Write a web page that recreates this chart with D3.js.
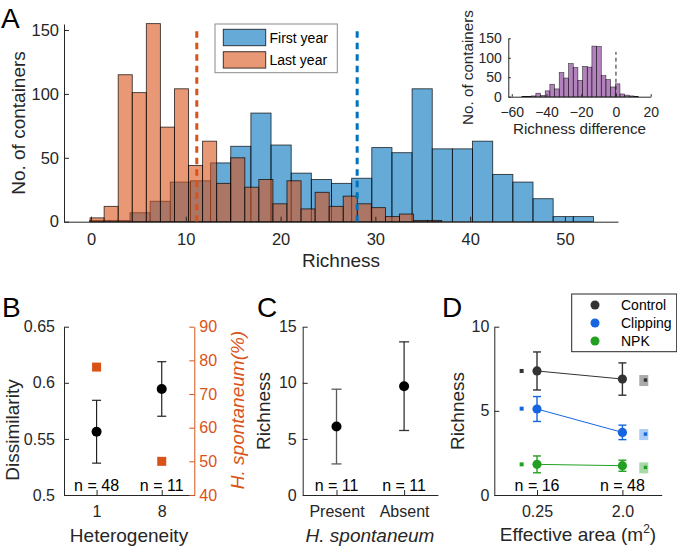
<!DOCTYPE html>
<html>
<head>
<meta charset="utf-8">
<script src="https://cdn.jsdelivr.net/npm/d3@7"></script>
<style>
body { margin: 0; background: #fff; }
svg text { font-family: Arial, "Liberation Sans", Helvetica, sans-serif; }
</style>
</head>
<body>
<div id="fig"></div>
<script>
// ---- panel A: richness histograms (bin start, bin width, counts)
var firstYearStart = -0.14, firstYearWidth = 2.126;
var firstYearCounts = [1, 1, 7, 16, 31, 32, 46, 59, 85, 60, 38, 33, 30, 34, 58, 54, 104, 57, 57, 63, 37, 31, 18, 4, 4];
var lastYearStart = -0.1, lastYearWidth = 1.484;
var lastYearCounts = [3, 12, 115, 101, 155, 74, 104, 44, 63, 30, 50, 27, 33, 14, 32, 10, 23, 12, 20, 14, 11, 4, 6, 1, 1];
var meanFirst = 28.08, meanLast = 11.16;
var seriesNames = ["First year", "Last year"];
var ticksAx = [0, 10, 20, 30, 40, 50];
var ticksAy = [0, 50, 100, 150];

// ---- inset: richness difference
var diffStart = -54.2, diffWidth = 2.69;
var diffCounts = [1, 1, 2, 9, 3, 15, 32, 20, 62, 48, 85, 75, 42, 78, 76, 130, 129, 54, 44, 25, 33, 7, 4, 2, 1];
var ticksInX = [-60, -40, -20, 0, 20];
var ticksInY = [0, 50, 100, 150];

// ---- panel B
var heteroLabels = ["1", "8"];
var dissim = [0.5564, 0.5945];
var dissimErr = [0.028, 0.0243];
var hspontPct = [78, 50];
var nB = ["n = 48", "n = 11"];
var ticksBl = [0.5, 0.55, 0.6, 0.65];
var ticksBr = [40, 50, 60, 70, 80, 90];

// ---- panel C
var presenceLabels = ["Present", "Absent"];
var richC = [6.1, 9.7];
var richCErr = [3.33, 3.95];
var nC = ["n = 11", "n = 11"];
var ticksC = [0, 5, 10, 15];

// ---- panel D
var areaLabels = ["0.25", "2.0"];
var treatments = ["Control", "Clipping", "NPK"];
var controlMean = [7.37, 6.89], controlErr = [1.13, 0.96];
var clippingMean = [5.11, 3.72], clippingErr = [0.74, 0.43];
var npkMean = [1.82, 1.74], npkErr = [0.5, 0.33];
var leftRef = [7.37, 5.13, 1.82];
var rightRef = [6.83, 3.62, 1.64];
var nD = ["n = 16", "n = 48"];
var ticksD = [0, 5, 10];

var axisColor = "#262626";
var blue = "#0072BD", orange = "#D95319", purple = "#7E2F8E";
var treatColors = ["#333333", "#1565e0", "#22a022"];
var treatLight = ["#ababab", "#a9cdf3", "#a9d9a9"];

var svg = d3.select("#fig").append("svg")
	.attr("width", 677)
	.attr("height", 550);

function styleAxis(g, color, size) {
	g.attr("font-family", null).attr("font-size", null);
	g.select(".domain").attr("stroke", color);
	g.selectAll(".tick line").attr("stroke", color);
	g.selectAll(".tick text").attr("fill", color).style("font-size", size + "px");
}

function histBars(g, start, width, counts, x, y, color, sw) {
	var bins = counts.map(function (c, i) {
		return {x0: start + i * width, x1: start + (i + 1) * width, c: c};
	}).filter(function (d) { return d.c > 0; });
	g.selectAll(null)
		.data(bins)
		.enter()
		.append("rect")
		.attr("x", function (d) { return x(d.x0); })
		.attr("width", function (d) { return x(d.x1) - x(d.x0); })
		.attr("y", function (d) { return y(d.c); })
		.attr("height", function (d) { return y(0) - y(d.c); })
		.attr("fill", color)
		.attr("fill-opacity", 0.6)
		.attr("stroke", "#000")
		.attr("stroke-opacity", 0.75)
		.attr("stroke-width", sw);
}

function label(txt, x, y, size, opts) {
	opts = opts || {};
	var t = svg.append("text")
		.attr("x", x).attr("y", y)
		.attr("text-anchor", opts.anchor || "middle")
		.style("font-size", size + "px")
		.style("fill", opts.color || axisColor)
		.text(txt);
	if (opts.italic) t.style("font-style", "italic");
	if (opts.rotate) t.attr("transform", "rotate(-90," + x + "," + y + ")");
	return t;
}

function errBars(g, xs, ys, es, x, y, colors, cap, sw) {
	xs.forEach(function (xv, i) {
		var c = Array.isArray(colors) ? colors[i] : colors;
		var px = x(xv);
		g.append("line").attr("x1", px).attr("x2", px)
			.attr("y1", y(ys[i] - es[i])).attr("y2", y(ys[i] + es[i]))
			.attr("stroke", c).attr("stroke-width", sw);
		[ys[i] - es[i], ys[i] + es[i]].forEach(function (v) {
			g.append("line").attr("x1", px - cap / 2).attr("x2", px + cap / 2)
				.attr("y1", y(v)).attr("y2", y(v))
				.attr("stroke", c).attr("stroke-width", sw);
		});
	});
}

// ================= PANEL A =================
var xA = d3.scaleLinear().domain([-2.85, 55.6]).range([64, 618]);
var yA = d3.scaleLinear().domain([0, 154.7]).range([221.7, 24]);
var gA = svg.append("g");

histBars(gA, firstYearStart, firstYearWidth, firstYearCounts, xA, yA, blue, 0.9);
histBars(gA, lastYearStart, lastYearWidth, lastYearCounts, xA, yA, orange, 0.9);

// mean lines
[[meanLast, orange], [meanFirst, blue]].forEach(function (m) {
	gA.append("line")
		.attr("x1", xA(m[0])).attr("x2", xA(m[0]))
		.attr("y1", yA(0)).attr("y2", yA(151))
		.attr("stroke", m[1]).attr("stroke-width", 3)
		.attr("stroke-dasharray", "6.5,5");
});

gA.append("g").attr("transform", "translate(0," + yA(0) + ")")
	.call(d3.axisBottom(xA).tickValues(ticksAx).tickSizeInner(-5).tickSizeOuter(0).tickPadding(11.5))
	.call(styleAxis, axisColor, 16.5);
gA.append("g").attr("transform", "translate(" + xA.range()[0] + ",0)")
	.call(d3.axisLeft(yA).tickValues(ticksAy).tickSizeInner(-5).tickSizeOuter(0).tickPadding(5))
	.call(styleAxis, axisColor, 16.5);

label("Richness", 341, 266.5, 19);
label("No. of containers", 24.5, 123, 19, {rotate: true});
label("A", 1, 28, 28, {anchor: "start", color: "#000"});

// legend A
gA.append("rect").attr("x", 215).attr("y", 24).attr("width", 122.3).attr("height", 48.7)
	.attr("fill", "#fff").attr("stroke", "#8a8a8a").attr("stroke-width", 1);
[blue, orange].forEach(function (c, i) {
	gA.append("rect").attr("x", 223.3).attr("y", 29.3 + i * 22.4).attr("width", 42.4).attr("height", 16.4)
		.attr("fill", c).attr("fill-opacity", 0.6).attr("stroke", "#000").attr("stroke-opacity", 0.75);
	label(seriesNames[i], 269.5, 43 + i * 22.4, 14, {anchor: "start", color: "#000"});
});

// ================= INSET =================
var xI = d3.scaleLinear().domain([-62, 20]).range([508.3, 650.7]);
var yI = d3.scaleLinear().domain([0, 150]).range([96.7, 38.3]);
var gI = svg.append("g");
histBars(gI, diffStart, diffWidth, diffCounts, xI, yI, purple, 0.6);
gI.append("line")
	.attr("x1", xI(0)).attr("x2", xI(0))
	.attr("y1", yI(0)).attr("y2", yI(115))
	.attr("stroke", "#222").attr("stroke-width", 1)
	.attr("stroke-dasharray", "4,3");
gI.append("g").attr("transform", "translate(0," + yI(0) + ")")
	.call(d3.axisBottom(xI).tickValues(ticksInX).tickSizeInner(-2.5).tickSizeOuter(0).tickPadding(10))
	.call(styleAxis, axisColor, 14);
gI.append("g").attr("transform", "translate(" + xI.range()[0] + ",0)")
	.call(d3.axisLeft(yI).tickValues(ticksInY).tickSizeInner(-2.5).tickSizeOuter(0).tickPadding(6.5))
	.call(styleAxis, axisColor, 14);
label("Richness difference", 579.5, 134.3, 15.2);
label("No. of containers", 473, 67.5, 15.2, {rotate: true});

// ================= PANEL B =================
var xB = d3.scaleLinear().domain([0.5, 2.5]).range([64, 194.3]);
var yB = d3.scaleLinear().domain([0.5, 0.65]).range([495, 326.7]);
var yB2 = d3.scaleLinear().domain([40, 90]).range([495, 326.7]);
var gB = svg.append("g");

gB.append("g").attr("transform", "translate(0,495)")
	.call(d3.axisBottom(xB).tickValues([1, 2]).tickFormat(function (d) { return heteroLabels[d - 1]; })
		.tickSizeInner(-5).tickSizeOuter(0).tickPadding(11))
	.call(styleAxis, axisColor, 16);
gB.append("g").attr("transform", "translate(64,0)")
	.call(d3.axisLeft(yB).tickValues(ticksBl).tickFormat(function (d) { return String(d); })
		.tickSizeInner(-5).tickSizeOuter(0).tickPadding(9))
	.call(styleAxis, axisColor, 16);
gB.append("g").attr("transform", "translate(194.3,0)")
	.call(d3.axisRight(yB2).tickValues(ticksBr).tickSizeInner(-5).tickSizeOuter(0).tickPadding(5))
	.call(styleAxis, orange, 16);

var posB = [1, 2];
gB.selectAll(null).data(hspontPct).enter().append("rect")
	.attr("x", function (d, i) { return xB(posB[i]) - 4.5; })
	.attr("y", function (d) { return yB2(d) - 4.5; })
	.attr("width", 9).attr("height", 9)
	.attr("fill", orange);
errBars(gB, posB, dissim, dissimErr, xB, yB, "#222", 9, 1.2);
gB.selectAll(null).data(dissim).enter().append("circle")
	.attr("cx", function (d, i) { return xB(posB[i]); })
	.attr("cy", function (d) { return yB(d); })
	.attr("r", 5).attr("fill", "#000");
nB.forEach(function (t, i) { label(t, xB(posB[i]), 491, 16, {color: "#000"}); });

label("Heterogeneity", 129, 542, 19);
label("Dissimilarity", 19, 430, 19, {rotate: true});
var rl = label("", 243.5, 410, 19, {rotate: true, color: orange, italic: true});
rl.append("tspan").text("H. spontaneum(%)");
label("B", 2, 317, 28, {anchor: "start", color: "#000"});

// ================= PANEL C =================
var xC = d3.scaleLinear().domain([0.5, 2.5]).range([302.7, 437.9]);
var yC = d3.scaleLinear().domain([0, 15]).range([495, 326.7]);
var gC = svg.append("g");
gC.append("g").attr("transform", "translate(0,495)")
	.call(d3.axisBottom(xC).tickValues([1, 2]).tickFormat(function (d) { return presenceLabels[d - 1]; })
		.tickSizeInner(-5).tickSizeOuter(0).tickPadding(11))
	.call(styleAxis, axisColor, 16);
gC.append("g").attr("transform", "translate(302.7,0)")
	.call(d3.axisLeft(yC).tickValues(ticksC).tickSizeInner(-5).tickSizeOuter(0).tickPadding(6))
	.call(styleAxis, axisColor, 16);
errBars(gC, [1, 2], richC, richCErr, xC, yC, ["#5a5a5a", "#333"], 10, 1.3);
gC.selectAll(null).data(richC).enter().append("circle")
	.attr("cx", function (d, i) { return xC(i + 1); })
	.attr("cy", function (d) { return yC(d); })
	.attr("r", 5).attr("fill", "#000");
nC.forEach(function (t, i) { label(t, xC(i + 1), 491, 16, {color: "#000"}); });
label("H. spontaneum", 370, 541.5, 19, {italic: true});
label("Richness", 270, 411, 19, {rotate: true});
label("C", 257, 317, 28, {anchor: "start", color: "#000"});

// ================= PANEL D =================
var xD = d3.scaleLinear().domain([0.5, 2.46]).range([494.3, 661.7]);
var yD = d3.scaleLinear().domain([0, 10]).range([495, 326.7]);
var gD = svg.append("g");
gD.append("g").attr("transform", "translate(0,495)")
	.call(d3.axisBottom(xD).tickValues([1, 2]).tickFormat(function (d) { return areaLabels[d - 1]; })
		.tickSizeInner(-5).tickSizeOuter(0).tickPadding(11))
	.call(styleAxis, axisColor, 16);
gD.append("g").attr("transform", "translate(494.3,0)")
	.call(d3.axisLeft(yD).tickValues(ticksD).tickSizeInner(-5).tickSizeOuter(0).tickPadding(5))
	.call(styleAxis, axisColor, 16);

var means = [controlMean, clippingMean, npkMean];
var errs = [controlErr, clippingErr, npkErr];
var lineD = d3.line().x(function (d, i) { return xD(i + 1); }).y(function (d) { return yD(d); });

means.forEach(function (m, k) {
	var c = treatColors[k];
	// reference squares
	gD.append("rect").attr("x", xD(0.82) - 2).attr("y", yD(leftRef[k]) - 2)
		.attr("width", 4).attr("height", 4).attr("fill", c);
	gD.append("rect").attr("x", xD(2.25) - 4.5).attr("y", yD(rightRef[k]) - 5)
		.attr("width", 9).attr("height", 11).attr("fill", treatLight[k]);
	gD.append("rect").attr("x", xD(2.27) - 1.7).attr("y", yD(rightRef[k]) - 1.7)
		.attr("width", 3.4).attr("height", 3.4).attr("fill", c);
	gD.append("path").datum(m).attr("d", lineD)
		.attr("fill", "none").attr("stroke", c).attr("stroke-width", 1);
	errBars(gD, [1, 2], m, errs[k], xD, yD, c, 8, 1.4);
	gD.selectAll(null).data(m).enter().append("circle")
		.attr("cx", function (d, i) { return xD(i + 1); })
		.attr("cy", function (d) { return yD(d); })
		.attr("r", 4.6).attr("fill", c);
});
nD.forEach(function (t, i) { label(t, xD(i + 1), 491, 16, {color: "#000"}); });

var xl = label("Effective area (m", 578, 541, 19);
xl.append("tspan").attr("dy", -8).style("font-size", "12px").text("2");
xl.append("tspan").attr("dy", 8).text(")");
label("Richness", 464, 411, 19, {rotate: true});
label("D", 442, 317, 28, {anchor: "start", color: "#000"});

// legend D
gD.append("rect").attr("x", 571.7).attr("y", 294).attr("width", 105).attr("height", 57.7)
	.attr("fill", "#fff").attr("stroke", axisColor).attr("stroke-width", 1);
treatments.forEach(function (t, k) {
	gD.append("circle").attr("cx", 595).attr("cy", 305 + k * 18).attr("r", 4.5).attr("fill", treatColors[k]);
	label(t, 621, 310 + k * 18, 14, {anchor: "start", color: "#000"});
});
</script>
</body>
</html>
